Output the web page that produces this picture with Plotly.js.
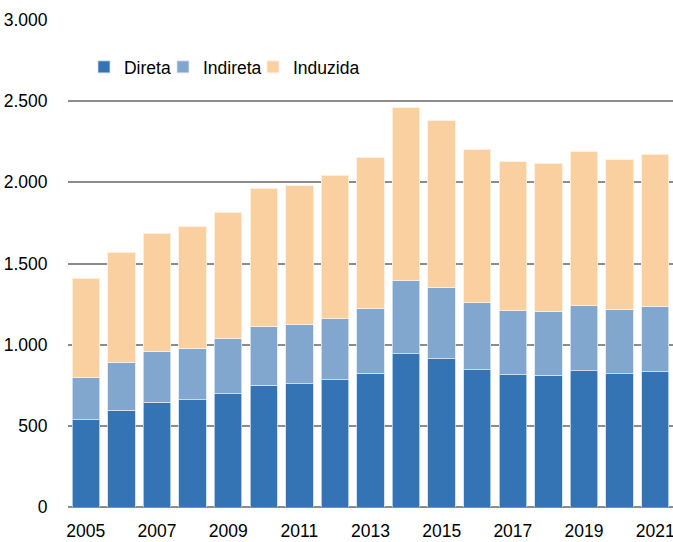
<!DOCTYPE html>
<html>
<head>
<meta charset="utf-8">
<script src="https://cdn.plot.ly/plotly-3.0.1.min.js"></script>
<style>html,body{margin:0;padding:0;background:#fff;}#chart{width:673px;height:542px;}</style>
</head>
<body>
<div id="chart"></div>
<script>
const years = [2005,2006,2007,2008,2009,2010,2011,2012,2013,2014,2015,2016,2017,2018,2019,2020,2021];
const direta   = [536,597,645,661,698,751,760,784,825,944,914,846,815,811,840,821,833];
const indireta = [263,294,312,318,337,364,365,380,399,454,441,411,397,395,404,394,405];
const induzida = [610,678,729,746,782,844,854,881,926,1060,1023,948,915,911,945,923,936];
const seriesNames = ['Direta','Indireta','Induzida'];
const yTicks = [0,500,1000,1500,2000,2500,3000];

const colors = ['#3574B4','#82A7CF','#FAD0A0'];
const lineCols = ['rgba(200,220,240,0.8)','rgba(220,232,245,0.8)','rgba(255,240,225,0.9)'];
const vals = [direta, indireta, induzida];
const legendIds = ['legend','legend2','legend3'];
const legendX = [0.0264, 0.157, 0.3058];

const traces = vals.map((v,i)=>({
  type:'bar', x:years, y:v, name:seriesNames[i], legend:legendIds[i],
  marker:{color:colors[i], line:{color:lineCols[i], width:1}},
  hoverinfo:'x+y+name'
}));

const font = {family:'"Liberation Sans", Arial, sans-serif', size:17.5, color:'#000'};
const layout = {
  width:673, height:542,
  margin:{l:68, r:0, t:20, b:35, pad:0},
  paper_bgcolor:'#fff', plot_bgcolor:'#fff',
  barmode:'stack', bargap:0.23,
  separators:',.',
  font:font,
  showlegend:true,
  xaxis:{type:'linear', range:[2004.5,2021.5], tick0:2005, dtick:2, tickformat:'d',
         showgrid:false, zeroline:false, showline:false, ticklabeloverflow:'allow',
         ticks:'outside', ticklen:8, tickcolor:'rgba(0,0,0,0)', tickfont:font},
  yaxis:{range:[0,3000], tickvals:yTicks, tickformat:',d',
         showgrid:true, gridcolor:'#8c8c8c', gridwidth:2,
         zeroline:true, zerolinecolor:'#8c8c8c', zerolinewidth:2, showline:false,
         ticks:'outside', ticklen:16, tickcolor:'rgba(0,0,0,0)', tickfont:font}
};
legendIds.forEach((id,i)=>{
  layout[id] = {orientation:'h', x:legendX[i], y:0.9035, xanchor:'left', yanchor:'middle',
                font:font, itemwidth:30, bgcolor:'rgba(0,0,0,0)'};
});
Plotly.newPlot('chart', traces, layout, {displayModeBar:false, staticPlot:true});
</script>
</body>
</html>
